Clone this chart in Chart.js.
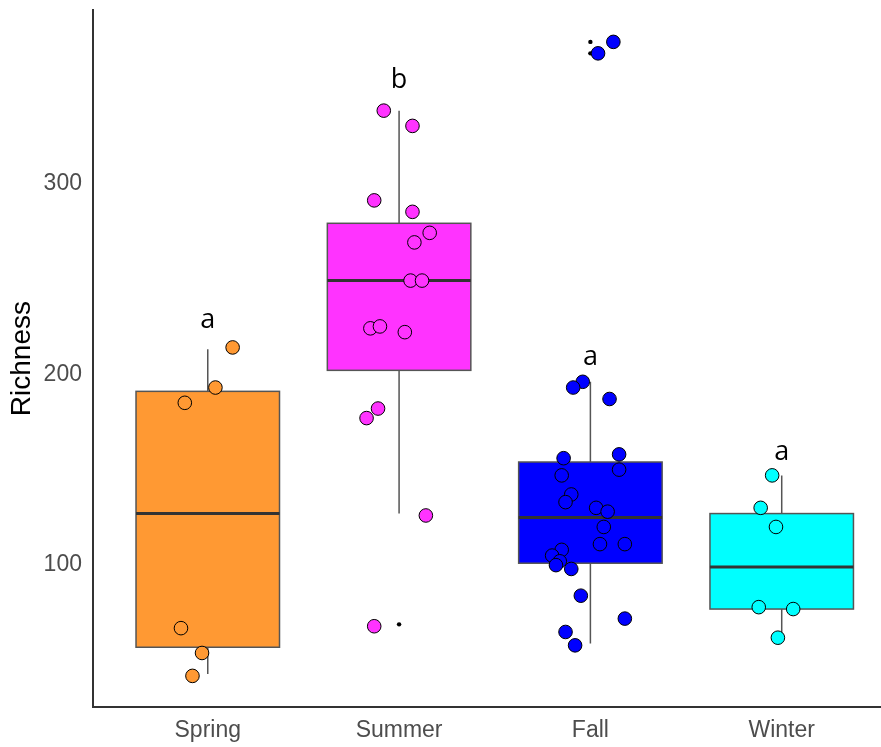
<!DOCTYPE html>
<html>
<head>
<meta charset="utf-8">
<script src="https://cdn.jsdelivr.net/npm/chart.js@4/dist/chart.umd.min.js"></script>
<style>
  html, body { margin: 0; padding: 0; background: #fff; overflow: hidden; }
  #wrap { width: 889px; height: 758px; margin-top: -9px; }
</style>
</head>
<body>
<div id="wrap"><canvas id="grafica"></canvas></div>
<script>
const $grafica = document.querySelector("#grafica");

// seasons and box summary (Richness)
const estaciones = ["Spring", "Summer", "Fall", "Winter"];
const colores = ["#ff9933", "#ff33ff", "#0000ff", "#00ffff"];
const q1 = [57, 202, 101, 77];
const mediana = [127, 249, 125, 99];
const q3 = [191, 279, 154, 127];
const bigoteBajo = [43, 127, 59, 62];
const bigoteAlto = [213, 338, 196, 147];
const letras = ["a", "b", "a", "a"];
const alturaLetra = [228, 354, 209, 159];
const yTicks = [100, 200, 300];

// outliers drawn by the boxplot (small black dots)
const atipicos = [[], [69], [374, 368], []];

// jittered observations: value and horizontal jitter per season
const springVals = [214, 193, 185, 67, 54, 42];
const springJit = [0.13, 0.04, -0.12, -0.14, -0.03, -0.08];
const summerVals = [338, 330, 291, 285, 274, 269, 249, 249, 224, 225, 222, 182, 177, 126, 68];
const summerJit = [-0.08, 0.07, -0.13, 0.07, 0.16, 0.08, 0.06, 0.12, -0.15, -0.10, 0.03, -0.11, -0.17, 0.14, -0.13];
const fallVals = [374, 368, 196, 193, 187, 156, 158, 150, 147, 137, 133, 130, 128, 120, 111, 111, 108, 105, 102, 100, 98, 84, 72, 65, 58];
const fallJit = [0.12, 0.04, -0.04, -0.09, 0.10, -0.14, 0.15, 0.15, -0.15, -0.10, -0.13, 0.03, 0.09, 0.07, 0.05, 0.18, -0.15, -0.20, -0.16, -0.18, -0.10, -0.05, 0.18, -0.13, -0.08];
const winterVals = [147, 130, 120, 78, 77, 62];
const winterJit = [-0.05, -0.11, -0.03, -0.12, 0.06, -0.02];

const valores = [springVals, summerVals, fallVals, winterVals];
const jitter = [springJit, summerJit, fallJit, winterJit];

const datasetsPuntos = valores.map((vals, i) => ({
    type: "scatter",
    label: estaciones[i],
    data: vals.map((v, k) => ({ x: i + 1 + jitter[i][k], y: v })),
    backgroundColor: colores[i],
    borderColor: "#000",
    borderWidth: 1,
    pointRadius: 6.8,
    order: 0,
}));

const datasetAtipicos = {
    type: "scatter",
    label: "outliers",
    data: atipicos.flatMap((vals, i) => vals.map(v => ({ x: i + 1, y: v }))),
    backgroundColor: "#000",
    borderWidth: 0,
    pointRadius: 2.2,
    order: 1,
};

const anchoCaja = 0.375;

const cajas = {
    id: "cajas",
    beforeDatasetsDraw(chart) {
        const { ctx, scales: { x, y } } = chart;
        ctx.save();
        for (let i = 0; i < estaciones.length; i++) {
            const cx = x.getPixelForValue(i + 1);
            const xl = x.getPixelForValue(i + 1 - anchoCaja);
            const xr = x.getPixelForValue(i + 1 + anchoCaja);
            // whiskers
            ctx.strokeStyle = "#555";
            ctx.lineWidth = 1.5;
            ctx.beginPath();
            ctx.moveTo(cx, y.getPixelForValue(bigoteAlto[i]));
            ctx.lineTo(cx, y.getPixelForValue(q3[i]));
            ctx.moveTo(cx, y.getPixelForValue(q1[i]));
            ctx.lineTo(cx, y.getPixelForValue(bigoteBajo[i]));
            ctx.stroke();
            // box
            const yt = y.getPixelForValue(q3[i]);
            const yb = y.getPixelForValue(q1[i]);
            ctx.fillStyle = colores[i];
            ctx.fillRect(xl, yt, xr - xl, yb - yt);
            ctx.strokeStyle = "#555";
            ctx.strokeRect(xl, yt, xr - xl, yb - yt);
            // median
            const ym = y.getPixelForValue(mediana[i]);
            ctx.strokeStyle = "#333";
            ctx.lineWidth = 3;
            ctx.beginPath();
            ctx.moveTo(xl, ym);
            ctx.lineTo(xr, ym);
            ctx.stroke();
        }
        ctx.restore();
    },
    afterDatasetsDraw(chart) {
        const { ctx, scales: { x, y } } = chart;
        ctx.save();
        ctx.fillStyle = "#000";
        ctx.font = "27px 'Open Sans', 'Liberation Sans', sans-serif";
        ctx.textAlign = "center";
        ctx.textBaseline = "middle";
        letras.forEach((l, i) => {
            ctx.fillText(l, x.getPixelForValue(i + 1), y.getPixelForValue(alturaLetra[i]));
        });
        ctx.restore();
    }
};

new Chart($grafica, {
    type: "scatter",
    data: { datasets: [datasetAtipicos, ...datasetsPuntos] },
    plugins: [cajas],
    options: {
        responsive: true,
        maintainAspectRatio: false,
        animation: false,
        layout: { padding: { top: 0, right: 0, left: 0, bottom: 2 } },
        plugins: { legend: { display: false }, tooltip: { enabled: false } },
        scales: {
            x: {
                type: "linear",
                min: 0.4,
                max: 4.52,
                afterBuildTicks: (axis) => { axis.ticks = estaciones.map((_, i) => ({ value: i + 1 })); },
                ticks: {
                    callback: (v) => estaciones[v - 1],
                    color: "#4d4d4d",
                    font: { family: "'Liberation Sans', Arial, sans-serif", size: 23 },
                    padding: 3,
                },
                grid: { display: false, drawTicks: true, tickLength: 6, tickColor: "#333" },
                border: { color: "#333", width: 2 },
            },
            y: {
                type: "linear",
                min: 25.5,
                max: 390.8,
                afterBuildTicks: (axis) => { axis.ticks = yTicks.map(v => ({ value: v })); },
                ticks: {
                    color: "#4d4d4d",
                    font: { family: "'Liberation Sans', Arial, sans-serif", size: 23 },
                    padding: 5,
                },
                grid: { display: false, drawTicks: true, tickLength: 6, tickColor: "#333" },
                border: { color: "#333", width: 2 },
                title: {
                    display: true,
                    text: "Richness",
                    color: "#000",
                    font: { family: "'Liberation Sans', Arial, sans-serif", size: 28 },
                    padding: { top: 5, bottom: 0 },
                },
            },
        },
    },
});
</script>
</body>
</html>
